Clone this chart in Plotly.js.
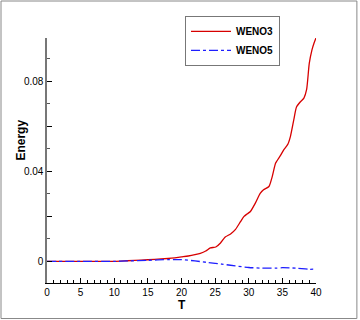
<!DOCTYPE html>
<html>
<head>
<meta charset="utf-8">
<script src="https://cdn.plot.ly/plotly-3.0.1.min.js"></script>
<style>
  html, body { margin: 0; padding: 0; background: #fff; }
  #chart { width: 360px; height: 320px; }
</style>
</head>
<body>
<div id="chart"></div>
<script>
// energy history
const tWeno3 = [0, 5, 10, 12, 14, 16, 18, 19, 20, 21, 22, 22.8, 23.6, 24.3, 25.1, 25.8, 26.5, 27.3, 28, 28.8,
  29.3, 29.8, 30.25, 31, 31.7, 32.2, 33, 33.5, 34, 34.7, 35.2, 35.8, 36.2, 36.7, 37.1, 37.7, 38.2, 38.6, 39, 39.4, 39.7, 40];
const eWeno3 = [0, 0, 0, 0.0003, 0.0006, 0.0009, 0.0013, 0.0016, 0.002, 0.0024, 0.003, 0.0036, 0.0046, 0.006, 0.0064,
  0.0082, 0.0108, 0.0122, 0.0141, 0.0178, 0.020, 0.0212, 0.0222, 0.026, 0.0302, 0.0318, 0.0333, 0.0378, 0.0437, 0.047,
  0.0496, 0.052, 0.0556, 0.063, 0.0686, 0.071, 0.0726, 0.0763, 0.088, 0.094, 0.097, 0.0993];

const tWeno5 = [0, 5, 10, 12, 15, 18, 20, 22, 24, 26, 28, 30, 32, 34, 35, 37, 39, 40];
const eWeno5 = [0, 0, 0, 0.0002, 0.0005, 0.0008, 0.0008, 0.0002, -0.0005, -0.0012, -0.002, -0.0027, -0.003,
  -0.003, -0.0028, -0.003, -0.0035, -0.0034];

const yTickVals = [0, 0.02, 0.04, 0.06, 0.08];
const yTickText = ['0', '', '0.04', '', '0.08'];

const font = 'Liberation Sans, Arial, sans-serif';

const traces = [
  { x: tWeno3, y: eWeno3, name: 'WENO3', type: 'scatter', mode: 'lines',
    line: { color: 'rgb(215,0,0)', width: 1.3, shape: 'spline', smoothing: 0.6 } },
  { x: tWeno5, y: eWeno5, name: 'WENO5', type: 'scatter', mode: 'lines',
    line: { color: 'rgb(30,30,255)', width: 1.3, dash: 'dashdot', shape: 'spline', smoothing: 0.6 } }
];

const layout = {
  width: 360, height: 320,
  margin: { l: 47, r: 44, t: 38, b: 37 },
  paper_bgcolor: '#fff', plot_bgcolor: '#fff',
  font: { family: font, size: 10, color: '#000' },
  showlegend: true,
  legend: {
    x: 0.513, y: 1.09, xanchor: 'left', yanchor: 'top',
    bordercolor: '#777', borderwidth: 1, bgcolor: '#fff',
    itemwidth: 40, tracegroupgap: 0,
    font: { family: font, size: 10, weight: 'bold' }
  },
  xaxis: {
    range: [0, 40], dtick: 5, tick0: 0,
    showgrid: false, zeroline: false,
    showline: true, linecolor: '#000', linewidth: 1,
    ticks: 'inside', ticklen: 5, tickcolor: '#000',
    minor: { dtick: 1, ticks: 'inside', ticklen: 3, tickcolor: '#000' },
    tickfont: { family: font, size: 10 }
  },
  yaxis: {
    range: [-0.0096, 0.0993],
    tickmode: 'array', tickvals: yTickVals, ticktext: yTickText,
    showgrid: false, zeroline: false,
    showline: true, linecolor: '#777', linewidth: 1.6,
    ticks: 'inside', ticklen: 5, tickcolor: '#000',
    minor: { dtick: 0.01, ticks: 'inside', ticklen: 3, tickcolor: '#555' },
    tickfont: { family: font, size: 10 }
  },
  annotations: [
    { text: 'T', xref: 'paper', yref: 'paper', x: 0.5, y: -0.09, xanchor: 'center', yanchor: 'middle',
      showarrow: false, font: { family: font, size: 12, weight: 'bold' } },
    { text: 'Energy', xref: 'paper', yref: 'paper', x: -0.097, y: 0.585, xanchor: 'center', yanchor: 'middle',
      textangle: -90, showarrow: false, font: { family: font, size: 12, weight: 'bold' } }
  ],
  shapes: [
    { type: 'rect', xref: 'paper', yref: 'paper', x0: -0.171, x1: 1.152, y0: -0.145, y1: 1.151,
      line: { color: '#888', width: 1 }, layer: 'below' }
  ]
};

Plotly.newPlot('chart', traces, layout, { displayModeBar: false, staticPlot: true });
</script>
</body>
</html>
